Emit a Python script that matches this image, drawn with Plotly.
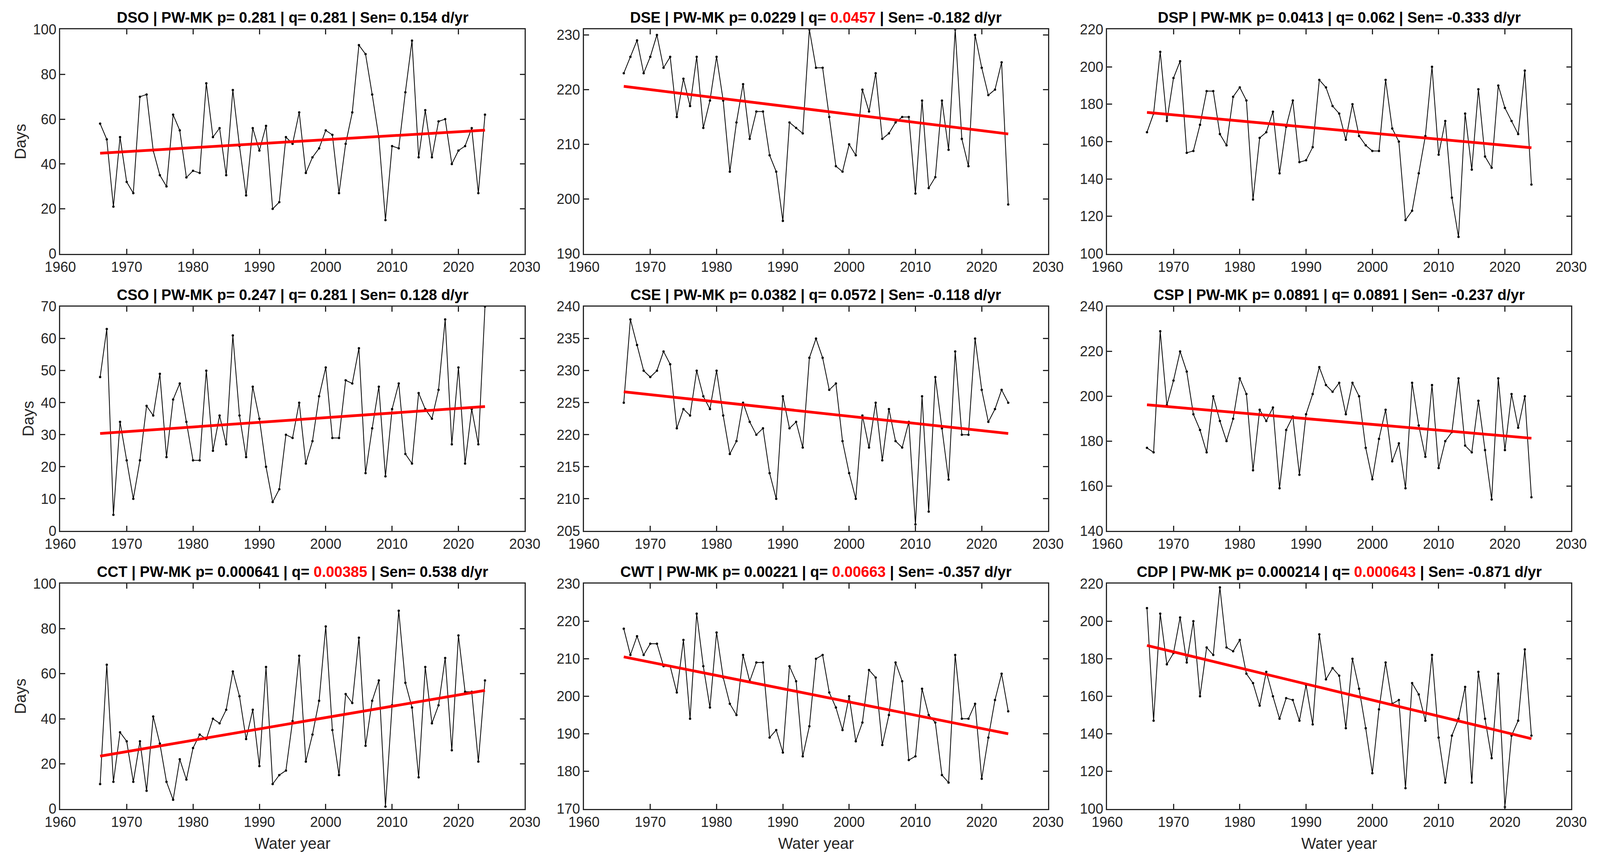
import plotly.graph_objects as go
from plotly.subplots import make_subplots

years = list(range(1966, 2025))

dso = [58, 51, 21, 52, 32, 27, 70, 71, 46, 35, 30, 62, 55, 34, 37, 36, 76, 52, 56, 35,
       73, 48, 26, 56, 46, 57, 20, 23, 52, 49, 63, 36, 43, 47, 55, 53, 27, 49, 63, 93,
       89, 71, 52, 15, 48, 47, 72, 95, 43, 64, 43, 59, 60, 40, 46, 48, 56, 27, 62]
dse = [223, 226, 229, 223, 226, 230, 224, 226, 215, 222, 217, 226, 213, 218, 226, 218, 205, 214, 221, 211,
       216, 216, 208, 205, 196, 214, 213, 212, 231, 224, 224, 215, 206, 205, 210, 208, 220, 216, 223, 211,
       212, 214, 215, 215, 201, 218, 202, 204, 218, 209, 231, 211, 206, 230, 224, 219, 220, 225, 199]
dsp = [165, 175, 208, 171, 194, 203, 154, 155, 169, 187, 187, 164, 158, 184, 189, 182, 129, 162, 165, 176,
       143, 168, 182, 149, 150, 157, 193, 189, 179, 175, 161, 180, 163, 158, 155, 155, 193, 167, 160, 118,
       123, 143, 163, 200, 153, 171, 130, 109, 175, 145, 188, 152, 146, 190, 178, 171, 164, 198, 137]
cso = [48, 63, 5, 34, 22, 10, 22, 39, 36, 49, 23, 41, 46, 34, 22, 22, 50, 25, 36, 27,
       61, 36, 23, 45, 35, 20, 9, 13, 30, 29, 40, 21, 28, 42, 51, 29, 29, 47, 46, 57,
       18, 32, 45, 17, 38, 46, 24, 21, 43, 38, 35, 44, 66, 27, 51, 21, 38, 27, 70]
cse = [225, 238, 234, 230, 229, 230, 233, 231, 221, 224, 223, 230, 226, 224, 230, 223, 217, 219, 225, 222,
       220, 221, 214, 210, 226, 221, 222, 218, 232, 235, 232, 227, 228, 219, 214, 210, 223, 218, 225, 216,
       224, 219, 218, 222, 206, 226, 208, 229, 221, 213, 233, 220, 220, 235, 227, 222, 224, 227, 225]
csp = [177, 175, 229, 196, 207, 220, 211, 192, 185, 175, 200, 189, 180, 190, 208, 201, 167, 194, 189, 195,
       159, 185, 191, 165, 192, 201, 213, 205, 202, 206, 192, 206, 200, 177, 163, 181, 194, 171, 179, 159,
       206, 187, 173, 205, 168, 180, 184, 208, 178, 175, 198, 176, 154, 208, 176, 201, 186, 200, 155]
cct = [11, 64, 12, 34, 30, 12, 30, 8, 41, 29, 12, 4, 22, 13, 27, 33, 31, 40, 38, 44,
       61, 50, 31, 44, 19, 63, 11, 15, 17, 39, 68, 21, 33, 48, 81, 35, 15, 51, 47, 76,
       28, 48, 57, 1, 46, 88, 56, 45, 14, 63, 38, 46, 67, 26, 77, 52, 52, 21, 57]
cwt = [218, 211, 216, 211, 214, 214, 208, 208, 201, 215, 194, 222, 208, 197, 217, 205, 198, 195, 211, 204,
       209, 209, 189, 191, 185, 208, 204, 184, 192, 210, 211, 201, 197, 191, 200, 188, 193, 207, 205, 187,
       195, 209, 204, 183, 184, 202, 195, 193, 179, 177, 211, 194, 194, 198, 178, 189, 199, 206, 196]
cdp = [207, 147, 204, 177, 183, 202, 178, 200, 160, 186, 182, 218, 186, 184, 190, 172, 167, 155, 173, 160,
       148, 159, 158, 147, 166, 145, 193, 169, 175, 171, 143, 180, 164, 143, 119, 153, 178, 156, 158, 111,
       167, 161, 147, 182, 138, 114, 139, 148, 165, 114, 173, 148, 127, 172, 101, 139, 147, 185, 139]

names = ["DSO", "DSE", "DSP", "CSO", "CSE", "CSP", "CCT", "CWT", "CDP"]
series = [dso, dse, dsp, cso, cse, csp, cct, cwt, cdp]
p_vals = ["0.281", "0.0229", "0.0413", "0.247", "0.0382", "0.0891", "0.000641", "0.00221", "0.000214"]
q_vals = ["0.281", "0.0457", "0.062", "0.281", "0.0572", "0.0891", "0.00385", "0.00663", "0.000643"]
sen_vals = ["0.154", "-0.182", "-0.333", "0.128", "-0.118", "-0.237", "0.538", "-0.357", "-0.871"]
# trend line value at first and last year
trend_start = [44.8, 220.6, 175.6, 30.4, 226.7, 196.2, 23.4, 210.5, 187.1]
trend_end = [55.1, 211.9, 156.7, 38.8, 220.2, 181.3, 52.6, 190.0, 137.4]
y_ranges = [[0, 100], [190, 231], [100, 220], [0, 70], [205, 240], [140, 240], [0, 100], [170, 230], [100, 220]]
y_dticks = [20, 10, 20, 10, 5, 20, 20, 10, 20]

x_domains = [[0.0377, 0.328], [0.365, 0.655], [0.692, 0.982]]
y_domains = [[0.707, 0.966], [0.387, 0.646], [0.066, 0.326]]

font_family = "Liberation Sans, Arial, sans-serif"
text_col = "#262626"

fig = make_subplots(rows=3, cols=3)

for i, name in enumerate(names):
    r, c = i // 3 + 1, i % 3 + 1
    fig.add_trace(go.Scatter(x=years, y=series[i], mode="lines+markers",
                             line=dict(color="black", width=2),
                             marker=dict(color="black", size=6),
                             showlegend=False), row=r, col=c)
    fig.add_trace(go.Scatter(x=[years[0], years[-1]], y=[trend_start[i], trend_end[i]],
                             mode="lines", line=dict(color="#ff0000", width=7),
                             showlegend=False), row=r, col=c)

    q_txt = q_vals[i]
    if float(q_vals[i]) < 0.05:
        q_txt = f"<span style='color:#ff0000'>{q_vals[i]}</span>"
    title = f"<b>{name} | PW-MK p= {p_vals[i]} | q= {q_txt} | Sen= {sen_vals[i]} d/yr</b>"
    ax_n = "" if i == 0 else str(i + 1)
    fig.add_annotation(text=title, xref=f"x{ax_n} domain", yref=f"y{ax_n} domain",
                       x=0.5, y=1.0, yanchor="bottom", xanchor="center", yshift=6,
                       showarrow=False, font=dict(family=font_family, size=38, color="black"))

    axis_style = dict(showline=True, linecolor=text_col, linewidth=2.5, mirror="ticks",
                      ticks="inside", ticklen=13, tickwidth=2.5, tickcolor=text_col,
                      showgrid=False, zeroline=False, automargin=False,
                      tickfont=dict(family=font_family, size=36, color=text_col))
    fig.update_xaxes(range=[1960, 2030], dtick=10, tick0=1960, domain=x_domains[c - 1],
                     row=r, col=c, **axis_style)
    fig.update_yaxes(range=y_ranges[i], dtick=y_dticks[i], domain=y_domains[r - 1],
                     row=r, col=c, **axis_style)
    if c == 1:
        fig.update_yaxes(title=dict(text="Days", standoff=6,
                                    font=dict(family=font_family, size=40, color=text_col)),
                         row=r, col=c)
    if r == 3:
        fig.update_xaxes(title=dict(text="Water year", standoff=22,
                                    font=dict(family=font_family, size=40, color=text_col)),
                         row=r, col=c)

fig.update_layout(width=4204, height=2217, margin=dict(l=0, r=0, t=0, b=0),
                  plot_bgcolor="white", paper_bgcolor="white")

# drop the page margin and fit the figure to the visible window
fit_js = """
document.documentElement.style.overflow = 'hidden';
document.body.style.margin = '0';
document.body.style.overflow = 'hidden';
Plotly.relayout('{plot_id}', {width: window.innerWidth, height: window.innerHeight});
"""
fig.write_html("out.html", post_script=fit_js, config={"displayModeBar": False})
